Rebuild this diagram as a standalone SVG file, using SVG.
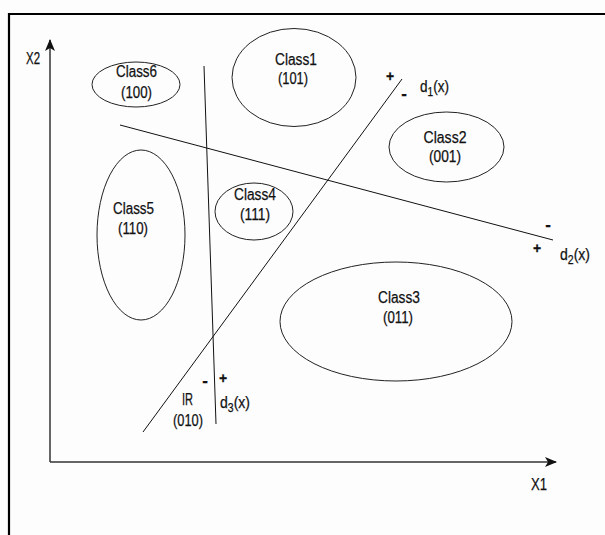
<svg xmlns="http://www.w3.org/2000/svg" width="605" height="535" viewBox="0 0 605 535">
<defs>
<style>
.bg{fill:#fdfdfd}
.frame{fill:none;stroke:#000;stroke-width:2.2}
.cls{fill:none;stroke:#222;stroke-width:1}
.ln{fill:none;stroke:#111;stroke-width:1}
.ax{fill:none;stroke:#333;stroke-width:1.5}
text{font-family:"Liberation Sans",Arial,sans-serif;font-size:16px;fill:#111;stroke:#111;stroke-width:0.25}
.c{text-anchor:middle}
.sub{font-size:12px}
.sg{font-size:14px;font-weight:bold}
.mn{font-size:17px;font-weight:bold}
</style>
<marker id="arr" viewBox="0 0 12 10" refX="11" refY="5" markerWidth="12" markerHeight="10" markerUnits="userSpaceOnUse" orient="auto">
<path d="M0,0 L12,5 L0,10 L3,5 Z" fill="#111"/>
</marker>
</defs>
<rect class="bg" x="0" y="0" width="605" height="535"/>
<path class="frame" d="M9,535 V14 H605"/>

<g id="connectors">
<line id="axis-x2" class="ax" x1="50" y1="462" x2="50" y2="40" marker-end="url(#arr)"/>
<line id="axis-x1" class="ax" x1="50" y1="462" x2="556" y2="462" marker-end="url(#arr)"/>
<line id="d1" class="ln" x1="143" y1="432" x2="402" y2="79"/>
<line id="d2" class="ln" x1="120" y1="125" x2="553" y2="240"/>
<line id="d3" class="ln" x1="204" y1="66" x2="216" y2="424"/>
</g>

<g id="axis-labels">
<text x="33" y="64" class="c" textLength="14" lengthAdjust="spacingAndGlyphs">X2</text>
<text x="539" y="490" class="c" textLength="16" lengthAdjust="spacingAndGlyphs">X1</text>
</g>

<g id="class6">
<ellipse class="cls" cx="136" cy="84.5" rx="44" ry="22.5"/>
<text x="136.5" y="77" class="c" textLength="41" lengthAdjust="spacingAndGlyphs">Class6</text>
<text x="136.5" y="98" class="c" textLength="31" lengthAdjust="spacingAndGlyphs">(100)</text>
</g>

<g id="class1">
<ellipse class="cls" cx="294" cy="77.5" rx="62" ry="49"/>
<text x="296" y="65" class="c" textLength="42" lengthAdjust="spacingAndGlyphs">Class1</text>
<text x="293" y="84" class="c" textLength="30" lengthAdjust="spacingAndGlyphs">(101)</text>
</g>

<g id="class2">
<ellipse class="cls" cx="446.5" cy="147" rx="57.5" ry="35"/>
<text x="445" y="143" class="c" textLength="43" lengthAdjust="spacingAndGlyphs">Class2</text>
<text x="445" y="162" class="c" textLength="32" lengthAdjust="spacingAndGlyphs">(001)</text>
</g>

<g id="class4">
<ellipse class="cls" cx="254" cy="211.5" rx="39" ry="28.5"/>
<text x="255" y="200" class="c" textLength="42" lengthAdjust="spacingAndGlyphs">Class4</text>
<text x="255" y="220" class="c" textLength="30" lengthAdjust="spacingAndGlyphs">(111)</text>
</g>

<g id="class5">
<ellipse class="cls" cx="141" cy="235" rx="44" ry="85"/>
<text x="133.5" y="214" class="c" textLength="41" lengthAdjust="spacingAndGlyphs">Class5</text>
<text x="133" y="234" class="c" textLength="30" lengthAdjust="spacingAndGlyphs">(110)</text>
</g>

<g id="class3">
<ellipse class="cls" cx="396" cy="321.5" rx="116" ry="59.5"/>
<text x="399" y="303" class="c" textLength="42" lengthAdjust="spacingAndGlyphs">Class3</text>
<text x="398" y="323" class="c" textLength="30" lengthAdjust="spacingAndGlyphs">(011)</text>
</g>

<g id="ir">
<text x="187.5" y="405" class="c" textLength="11" lengthAdjust="spacingAndGlyphs">IR</text>
<text x="188" y="426" class="c" textLength="30" lengthAdjust="spacingAndGlyphs">(010)</text>
</g>

<g id="line-labels">
<text x="390" y="81" class="sg c">+</text>
<text x="404" y="99" class="mn c">-</text>
<text x="420" y="92" textLength="29" lengthAdjust="spacingAndGlyphs">d<tspan class="sub" dy="4">1</tspan><tspan dy="-4">(x)</tspan></text>

<text x="548" y="230" class="mn c">-</text>
<text x="537" y="253" class="sg c">+</text>
<text x="560" y="260" textLength="30" lengthAdjust="spacingAndGlyphs">d<tspan class="sub" dy="4">2</tspan><tspan dy="-4">(x)</tspan></text>

<text x="205" y="386" class="mn c">-</text>
<text x="223" y="383" class="sg c">+</text>
<text x="220" y="408" textLength="30" lengthAdjust="spacingAndGlyphs">d<tspan class="sub" dy="4">3</tspan><tspan dy="-4">(x)</tspan></text>
</g>
</svg>
